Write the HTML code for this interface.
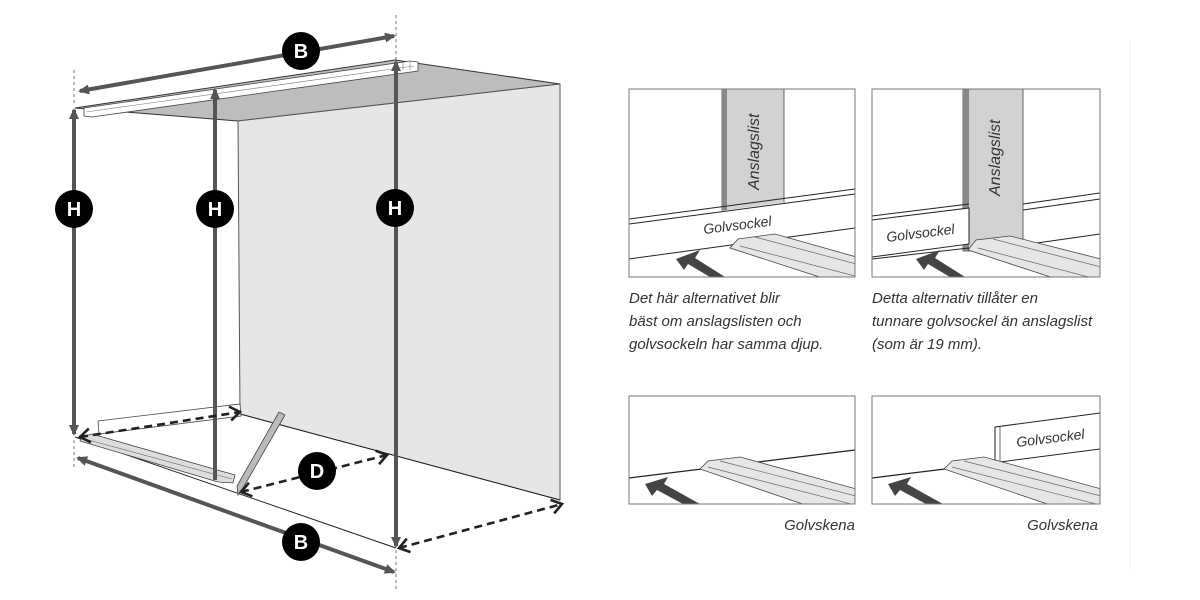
<!DOCTYPE html>
<html><head><meta charset="utf-8"><style>
html,body{margin:0;padding:0;background:#fff;}
svg{display:block;}
text{font-family:"Liberation Sans",sans-serif;}
.cap{font-style:italic;font-size:15px;fill:#333;}
.lbl{font-weight:bold;font-size:20px;fill:#fff;text-anchor:middle;}
</style></head><body>
<svg width="1200" height="600" viewBox="0 0 1200 600" xmlns="http://www.w3.org/2000/svg">
<defs>
<marker id="ah" markerWidth="12" markerHeight="12" refX="9" refY="6" orient="auto-start-reverse" markerUnits="userSpaceOnUse"><path d="M0,1 L11,6 L0,11 Z" fill="#555"/></marker>
<marker id="oh" markerWidth="14" markerHeight="16" refX="12" refY="8" orient="auto-start-reverse" markerUnits="userSpaceOnUse"><path d="M2,1 L12,8 L2,15" fill="none" stroke="#222" stroke-width="2.6"/></marker>
<clipPath id="c1"><rect x="629" y="89" width="226" height="188"/></clipPath>
<clipPath id="c2"><rect x="872" y="89" width="228" height="188"/></clipPath>
<clipPath id="c3"><rect x="629" y="396" width="226" height="108"/></clipPath>
<clipPath id="c4"><rect x="872" y="396" width="228" height="108"/></clipPath>
</defs>

<line x1="1130" y1="40" x2="1130" y2="570" stroke="#f2f2f2" stroke-width="1"/>

<polygon points="75,108 395,60 560,84 238,121" fill="#bdbdbd" stroke="#333" stroke-width="1"/>
<polygon points="238,121 560,84 560,500 240,414" fill="#e6e6e6" stroke="#555" stroke-width="1"/>
<line x1="240" y1="414" x2="560" y2="500" stroke="#222" stroke-width="1"/>
<line x1="75" y1="437" x2="396" y2="548" stroke="#222" stroke-width="1"/>
<polygon points="84,108 410,61 418,62 418,71 92,117 84,116" fill="#fff" stroke="#444" stroke-width="0.8"/>
<line x1="86" y1="112" x2="414" y2="66" stroke="#777" stroke-width="0.6"/>
<line x1="403" y1="62" x2="403" y2="70" stroke="#777" stroke-width="0.6"/>
<line x1="410" y1="62" x2="410" y2="70" stroke="#777" stroke-width="0.6"/>
<polygon points="98,421 240,404 241,416 99,434" fill="#fff" stroke="#444" stroke-width="0.8"/>
<polygon points="82,437 92,434 235,475 233,483 218,482 80,441" fill="#ddd" stroke="#444" stroke-width="0.8"/>
<line x1="85" y1="439" x2="232" y2="479" stroke="#666" stroke-width="0.6"/>
<polygon points="279,412 285,415 243,488 238,495 237,486" fill="#bbb" stroke="#444" stroke-width="0.8"/>

<g stroke="#555" stroke-width="0.8" stroke-dasharray="3,3">
<line x1="74" y1="70" x2="74" y2="106"/><line x1="74" y1="440" x2="74" y2="470"/>
<line x1="396" y1="15" x2="396" y2="60"/><line x1="396" y1="550" x2="396" y2="592"/>
</g>

<g stroke="#555" stroke-width="4" fill="none">
<line x1="74" y1="434" x2="74" y2="110" marker-end="url(#ah)" marker-start="url(#ah)"/>
<line x1="215" y1="480" x2="215" y2="90" marker-end="url(#ah)"/>
<line x1="396" y1="546" x2="396" y2="62" marker-end="url(#ah)" marker-start="url(#ah)"/>
<line x1="80" y1="91" x2="394" y2="36" marker-end="url(#ah)" marker-start="url(#ah)"/>
<line x1="78" y1="458" x2="394" y2="572" marker-end="url(#ah)" marker-start="url(#ah)"/>
</g>

<g stroke="#222" stroke-width="2.6" stroke-dasharray="8,5" fill="none">
<line x1="80" y1="437" x2="240" y2="412" marker-end="url(#oh)" marker-start="url(#oh)"/>
<line x1="241" y1="492" x2="387" y2="455" marker-end="url(#oh)" marker-start="url(#oh)"/>
<line x1="399" y1="548" x2="562" y2="504" marker-end="url(#oh)" marker-start="url(#oh)"/>
</g>

<g fill="#000">
<circle cx="301" cy="51" r="19"/><circle cx="74" cy="209" r="19"/><circle cx="215" cy="209" r="19"/>
<circle cx="395" cy="208" r="19"/><circle cx="317" cy="471" r="19"/><circle cx="301" cy="542" r="19"/>
</g>
<text class="lbl" x="301" y="58">B</text><text class="lbl" x="74" y="216">H</text>
<text class="lbl" x="215" y="216">H</text><text class="lbl" x="395" y="215">H</text>
<text class="lbl" x="317" y="478">D</text><text class="lbl" x="301" y="549">B</text>

<!-- Panel 1 -->
<g clip-path="url(#c1)">
<rect x="722" y="89" width="62" height="130" fill="#d2d2d2" stroke="#444" stroke-width="0.8"/>
<rect x="722" y="89" width="5" height="130" fill="#888"/>
<polygon points="629,223 855,193 855,228 629,259" fill="#fff"/>
<line x1="629" y1="219" x2="855" y2="189" stroke="#222" stroke-width="1"/>
<line x1="629" y1="224" x2="855" y2="194" stroke="#222" stroke-width="1"/>
<line x1="629" y1="259" x2="855" y2="228" stroke="#222" stroke-width="1"/>
<polygon points="730,248 738,239 775,234 860,258 860,282 835,282" fill="#e6e6e6" stroke="#444" stroke-width="0.8"/>
<line x1="755" y1="237" x2="860" y2="265" stroke="#666" stroke-width="0.7"/>
<line x1="740" y1="246" x2="855" y2="276" stroke="#666" stroke-width="0.7"/>
<polygon points="676,259 700,250 695,258 725,277 710,277 688,264 684,270" fill="#444"/>
</g>
<rect x="629" y="89" width="226" height="188" fill="none" stroke="#777" stroke-width="1"/>
<text class="cap" style="font-size:16px" transform="translate(759,190) rotate(-90)">Anslagslist</text>
<text class="cap" style="font-size:14px" transform="translate(704,234) rotate(-7)">Golvsockel</text>

<!-- Panel 2 -->
<g clip-path="url(#c2)">
<rect x="963" y="89" width="60" height="162" fill="#d2d2d2" stroke="#444" stroke-width="0.8"/>
<rect x="963" y="89" width="6" height="162" fill="#888"/>
<polygon points="872,220 969,208 969,244 872,257" fill="#fff" stroke="#222" stroke-width="1"/>
<line x1="872" y1="216" x2="969" y2="204" stroke="#222" stroke-width="1"/>
<line x1="1023" y1="204" x2="1100" y2="193" stroke="#222" stroke-width="1"/>
<line x1="1023" y1="210" x2="1100" y2="199" stroke="#222" stroke-width="1"/>
<line x1="1023" y1="245" x2="1100" y2="234" stroke="#222" stroke-width="1"/>
<line x1="872" y1="259" x2="969" y2="248" stroke="#222" stroke-width="1"/>
<polygon points="968,250 976,240 1010,236 1105,260 1105,285 1075,285" fill="#e6e6e6" stroke="#444" stroke-width="0.8"/>
<line x1="993" y1="239" x2="1105" y2="268" stroke="#666" stroke-width="0.7"/>
<line x1="978" y1="248" x2="1100" y2="280" stroke="#666" stroke-width="0.7"/>
<polygon points="916,259 940,250 935,258 965,277 950,277 928,264 924,270" fill="#444"/>
</g>
<rect x="872" y="89" width="228" height="188" fill="none" stroke="#777" stroke-width="1"/>
<text class="cap" style="font-size:16px" transform="translate(1000,196) rotate(-90)">Anslagslist</text>
<text class="cap" style="font-size:14px" transform="translate(887,242) rotate(-7)">Golvsockel</text>

<text class="cap" x="629" y="303">Det här alternativet blir</text>
<text class="cap" x="629" y="326">bäst om anslagslisten och</text>
<text class="cap" x="629" y="349">golvsockeln har samma djup.</text>
<text class="cap" x="872" y="303">Detta alternativ tillåter en</text>
<text class="cap" x="872" y="326">tunnare golvsockel än anslagslist</text>
<text class="cap" x="872" y="349">(som är 19 mm).</text>

<!-- Panel 3 -->
<g clip-path="url(#c3)">
<line x1="629" y1="478" x2="855" y2="450" stroke="#222" stroke-width="1.2"/>
<polygon points="700,469 708,461 740,457 860,490 860,510 820,510" fill="#e6e6e6" stroke="#444" stroke-width="0.8"/>
<line x1="720" y1="461" x2="860" y2="497" stroke="#666" stroke-width="0.7"/>
<line x1="708" y1="467" x2="855" y2="505" stroke="#666" stroke-width="0.7"/>
<polygon points="645,484 668,477 664,484 700,504 683,504 657,490 652,496" fill="#444"/>
</g>
<rect x="629" y="396" width="226" height="108" fill="none" stroke="#777" stroke-width="1"/>
<text class="cap" x="855" y="530" text-anchor="end">Golvskena</text>

<!-- Panel 4 -->
<g clip-path="url(#c4)">
<line x1="872" y1="478" x2="945" y2="469" stroke="#222" stroke-width="1.2"/>
<polygon points="995,427 1100,413 1100,449 1000,462 995,460" fill="#fff" stroke="#222" stroke-width="1"/>
<line x1="1000" y1="427" x2="1000" y2="462" stroke="#444" stroke-width="0.8"/>
<polygon points="944,469 952,461 984,457 1105,490 1105,510 1065,510" fill="#e6e6e6" stroke="#444" stroke-width="0.8"/>
<line x1="964" y1="461" x2="1105" y2="497" stroke="#666" stroke-width="0.7"/>
<line x1="952" y1="467" x2="1100" y2="505" stroke="#666" stroke-width="0.7"/>
<polygon points="888,484 911,477 907,484 943,504 926,504 900,490 895,496" fill="#444"/>
</g>
<rect x="872" y="396" width="228" height="108" fill="none" stroke="#777" stroke-width="1"/>
<text class="cap" style="font-size:14px" transform="translate(1017,447) rotate(-7)">Golvsockel</text>
<text class="cap" x="1098" y="530" text-anchor="end">Golvskena</text>
</svg>
</body></html>
